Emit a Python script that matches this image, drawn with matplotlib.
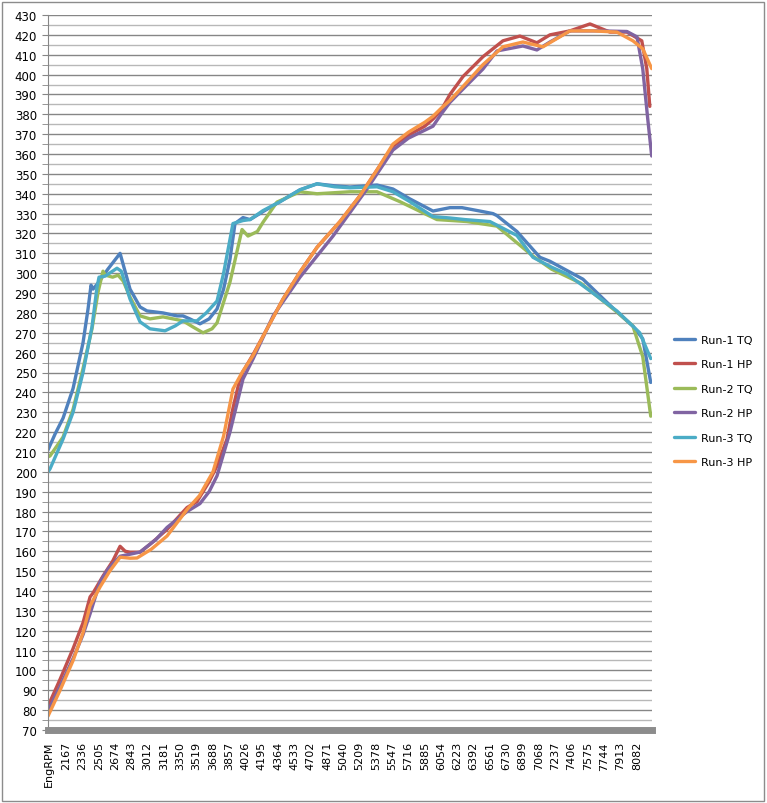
import matplotlib
matplotlib.use("Agg")
import matplotlib.pyplot as plt
from matplotlib.patches import Rectangle
from matplotlib.ticker import MultipleLocator

# dyno runs, values (rpm, value)
run1_tq_rpm = [1980, 2053, 2136, 2240, 2343, 2395, 2426, 2447, 2499, 2600, 2727, 2830, 2934, 3006, 3172, 3317, 3379, 3450, 3555, 3650, 3732, 3800, 3866, 3918, 4001, 4074, 4208, 4384, 4592, 4768, 4950, 5110, 5390, 5555, 5731, 5970, 6146, 6271, 6488, 6592, 6633, 6840, 7078, 7182, 7524, 7876, 8042, 8144, 8227]
run1_tq = [211, 219, 227, 242, 265, 282, 294, 292, 295, 302, 310, 292, 283, 281, 280, 278.5, 278.5, 277, 274.5, 277, 282, 292, 307, 325, 328, 327, 331, 336, 342, 345, 344, 343.4, 344.4, 342.4, 337.4, 331.3, 333, 333, 331, 330, 329, 321, 308, 306, 297, 280.5, 273.4, 267, 245]

run1_hp_rpm = [1980, 2105, 2240, 2343, 2416, 2447, 2550, 2650, 2727, 2780, 2830, 2934, 3050, 3214, 3421, 3524, 3650, 3732, 3835, 3897, 3960, 4001, 4105, 4250, 4416, 4592, 4768, 5006, 5213, 5390, 5555, 5716, 5885, 5970, 6054, 6146, 6281, 6488, 6695, 6871, 7047, 7182, 7389, 7597, 7804, 7980, 8134, 8186, 8217]
run1_hp = [82, 95.5, 111, 124, 137, 139, 147.5, 155, 162.5, 160, 159.5, 159.5, 164, 171, 182, 185, 195, 203, 216.5, 232, 245, 250.5, 259, 272, 287, 300.6, 313, 326, 339, 352, 364, 369.5, 374, 377.6, 382, 390, 399, 409, 417, 419.4, 416, 420, 422, 425.5, 421.4, 421.4, 417, 403, 384]

run2_tq_rpm = [1980, 2001, 2136, 2240, 2343, 2436, 2499, 2550, 2575, 2650, 2706, 2760, 2830, 2934, 3037, 3172, 3379, 3480, 3587, 3680, 3732, 3866, 3991, 4053, 4150, 4208, 4353, 4592, 4768, 5110, 5390, 5628, 6011, 6322, 6633, 7006, 7200, 7500, 7876, 8042, 8144, 8227]
run2_tq = [207.5, 208, 217.5, 231.5, 252, 272, 290.5, 301, 299, 298, 299, 296, 288, 278.5, 277, 278, 276, 273, 270, 272, 275, 295.5, 322, 318.7, 321, 325.6, 335.8, 341, 340, 341, 341, 336, 327, 326, 323.7, 308.6, 302, 295, 280.5, 273.4, 258, 228]

run2_hp_rpm = [1980, 2105, 2240, 2343, 2416, 2519, 2600, 2727, 2830, 2934, 3100, 3214, 3421, 3555, 3650, 3732, 3866, 4001, 4105, 4312, 4592, 4934, 5286, 5390, 5555, 5716, 5885, 5970, 6054, 6146, 6281, 6488, 6633, 6902, 7047, 7182, 7389, 7700, 7980, 8084, 8144, 8196, 8237]
run2_hp = [79.5, 92, 106, 118, 128.5, 144.5, 151, 157.5, 158.5, 159.6, 166, 172, 180, 184, 190, 198, 220, 246.7, 256.8, 278.4, 298, 318.7, 342.4, 350, 362, 368, 372, 374, 380, 386, 392.7, 402.8, 411.9, 414.4, 412.4, 416.4, 422, 422, 421.7, 419, 403, 377.6, 359]

run3_tq_rpm = [1980, 2001, 2136, 2240, 2343, 2436, 2488, 2509, 2571, 2695, 2740, 2830, 2934, 3037, 3193, 3300, 3379, 3524, 3620, 3732, 3800, 3897, 4001, 4074, 4208, 4384, 4592, 4768, 4950, 5110, 5390, 5555, 5731, 5970, 6146, 6300, 6560, 6840, 7006, 7200, 7358, 7600, 7876, 8113, 8227]
run3_tq = [200, 201.5, 216.5, 230, 250, 273, 293, 298, 298.5, 302.5, 301, 287, 275.5, 272, 271, 273.5, 276, 276, 280, 286, 300, 325, 326.5, 327, 331.5, 336, 342, 345, 343.5, 343, 343.5, 341, 336, 328.5, 327.8, 327, 326, 319, 308, 303, 299.6, 291, 281, 270, 257]

run3_hp_rpm = [1980, 2105, 2240, 2343, 2416, 2519, 2620, 2727, 2830, 2903, 3050, 3214, 3421, 3550, 3690, 3800, 3897, 3991, 4105, 4250, 4416, 4592, 4768, 5006, 5213, 5390, 5555, 5716, 5885, 5970, 6054, 6146, 6281, 6488, 6695, 6902, 7110, 7389, 7628, 7876, 8042, 8144, 8237]
run3_hp = [77, 90, 105, 119, 132.5, 142, 150, 157, 156.5, 156.6, 161, 167.7, 181, 188, 200, 218, 241.7, 250, 258.5, 272, 287, 300.6, 313, 326, 339, 352, 365, 371, 376, 379, 383, 387, 394, 405, 414, 416.4, 414, 422, 422, 421.4, 417, 413, 403]

tick_rpm = [1985] + list(range(2167, 8083, 169))
tick_labels = ["EngRPM"] + [str(r) for r in range(2167, 8083, 169)]

series = [
    ("Run-1 TQ", run1_tq_rpm, run1_tq, "#4F81BD"),
    ("Run-1 HP", run1_hp_rpm, run1_hp, "#C0504D"),
    ("Run-2 TQ", run2_tq_rpm, run2_tq, "#9BBB59"),
    ("Run-2 HP", run2_hp_rpm, run2_hp, "#8064A2"),
    ("Run-3 TQ", run3_tq_rpm, run3_tq, "#4BACC6"),
    ("Run-3 HP", run3_hp_rpm, run3_hp, "#F79646"),
]

plt.rcParams["font.family"] = ["DejaVu Sans"]
fig = plt.figure(figsize=(7.67, 8.04), dpi=100)
ax = fig.add_axes([48 / 767, 1 - 731 / 804, (652 - 48) / 767, (731 - 16) / 804])

for name, x, y, c in series:
    ax.plot(x, y, color=c, lw=2.4, label=name, solid_joinstyle="round", solid_capstyle="round")

ax.set_xlim(1980, 8240)
ax.set_ylim(70, 430)
ax.yaxis.set_major_locator(MultipleLocator(10))
ax.yaxis.set_minor_locator(MultipleLocator(5))
ax.grid(which="major", axis="y", color="#868686", lw=1)
ax.grid(which="minor", axis="y", color="#b8b8b8", lw=1)
ax.set_axisbelow(True)
ax.set_xticks(tick_rpm)
ax.set_xticklabels(tick_labels, rotation=90, fontsize=8)
ax.tick_params(axis="x", length=0, pad=8)
ax.tick_params(axis="y", which="major", length=4, color="#868686", labelsize=8.5, pad=4)
ax.tick_params(axis="y", which="minor", length=4, color="#868686")
for s in ["top", "right"]:
    ax.spines[s].set_visible(False)
ax.spines["left"].set_color("#868686")
ax.spines["bottom"].set_color("#8c8c8c")
ax.spines["bottom"].set_linewidth(5)

fig.legend(loc="center left", bbox_to_anchor=(664 / 767, 1 - 402 / 804), frameon=False,
           fontsize=8, handlelength=1.9, labelspacing=1.3, handletextpad=0.5)

fig.patches.append(Rectangle((2 / 767, 2 / 804), 762 / 767, 799 / 804, transform=fig.transFigure,
                             fill=False, edgecolor="#8c8c8c", lw=1))

fig.savefig("out.png", dpi=100)
